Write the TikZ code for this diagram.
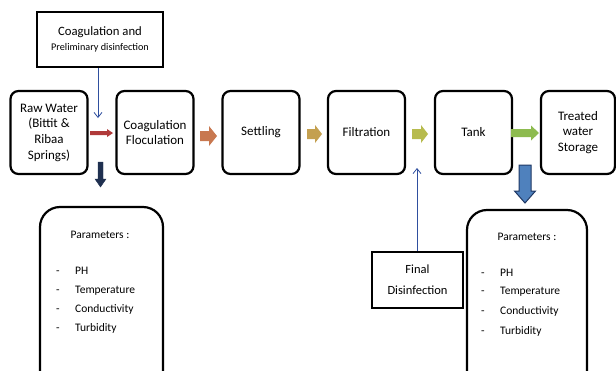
\documentclass[tikz,border=0pt]{standalone}
\usepackage{fontspec}
\setmainfont{Carlito}
\usetikzlibrary{arrows.meta}
\definecolor{redA}{HTML}{B03A3A}
\definecolor{orangeA}{HTML}{C87850}
\definecolor{tanA}{HTML}{C4A050}
\definecolor{ygA}{HTML}{B7BB4E}
\definecolor{greenA}{HTML}{8DBB4F}
\definecolor{navyA}{HTML}{1F3050}
\definecolor{blueA}{HTML}{4F81BD}
\definecolor{blueD}{HTML}{1F3864}
\definecolor{lineB}{HTML}{2F4F9F}
\newcommand\harrow[7]{\fill[#7] (#1,{#3-#4}) -- ({#2-#6},{#3-#4}) -- ({#2-#6},{#3-#5}) -- (#2,#3) -- ({#2-#6},{#3+#5}) -- ({#2-#6},{#3+#4}) -- (#1,{#3+#4}) -- cycle;}
\newcommand\varrow[8]{\filldraw[#7,#8] ({#3-#4},#1) -- ({#3-#4},{#2-#6}) -- ({#3-#5},{#2-#6}) -- (#3,#2) -- ({#3+#5},{#2-#6}) -- ({#3+#4},{#2-#6}) -- ({#3+#4},#1) -- cycle;}
\tikzset{
  stepbox/.style={draw, line width=2.2pt, rounded corners=8pt, minimum width=77pt, minimum height=83pt, align=center, font=\fontsize{13}{15.7}\selectfont, inner sep=1pt},
  sqbox/.style={draw, line width=2.6pt, align=center, inner sep=0pt},
  parbox/.style={draw, line width=2.2pt, rounded corners=20pt},
  ptxt/.style={font=\fontsize{11.5}{13}\selectfont, inner sep=0pt},
  thin/.style={lineB, line width=0.8pt, -{Straight Barb[length=5pt,width=8pt]}}
}
\begin{document}
\begin{tikzpicture}[x=1pt,y=-1pt]
\useasboundingbox (0,0) rectangle (616,370);
\clip (0,0) rectangle (616,370);
\fill[white] (0,0) rectangle (616,370);
% main boxes
\node[stepbox] (raw) at (49,132.5) {Raw Water\\(Bittit \&\\Ribaa\\Springs)};
\node[stepbox] (coag) at (155,132.5) {Coagulation\\Floculation};
\node[stepbox] (settle) at (261,132.5) {Settling};
\node[stepbox] (filt) at (366.5,132.5) {Filtration};
\node[stepbox] (tank) at (473.5,132.5) {Tank};
\node[stepbox, minimum width=74pt] (treat) at (578,132.5) {Treated\\water\\Storage};
% top box
\node[sqbox, minimum width=126pt, minimum height=55pt] (top) at (100,39.5) {\fontsize{12.7}{14}\selectfont Coagulation and\\[3pt]\fontsize{10.2}{12}\selectfont Preliminary disinfection};
% final box
\node[sqbox, minimum width=91pt, minimum height=56pt, font=\fontsize{12.5}{21}\selectfont] (final) at (417.5,280) {Final\\Disinfection};
% thin arrows
\coordinate (t1) at (98,118);
\draw[thin] (top.south -| t1) -- (t1);
\coordinate (t2) at (417,168);
\draw[thin] (final.north -| t2) -- (t2);
% block arrows
\harrow{90}{113}{133}{2}{4}{6}{redA}
\harrow{200}{217}{136}{5}{10}{8}{orangeA}
\harrow{307}{322}{134}{5}{9}{7}{tanA}
\harrow{412}{428}{134}{5}{9}{7}{ygA}
\harrow{511}{539}{133}{4}{7.5}{8}{greenA}
\varrow{162}{187}{100.5}{2.5}{5.5}{8}{fill=navyA}{draw=navyA}
\varrow{165}{203}{525}{6}{10.5}{12}{fill=blueA}{draw=blueD,line width=1pt}
% parameter boxes
\draw[parbox] (40,207) rectangle (163,390);
\draw[parbox] (467,210) rectangle (587,390);
% left texts
\node[ptxt] (lp) at (100,235) {Parameters :};
\foreach \t/\y [count=\i] in {PH/274,Temperature/293,Conductivity/312,Turbidity/331}{
  \node[ptxt, anchor=base] (ld\i) at (58,\y) {-};
  \node[ptxt, anchor=base west] (li\i) at (75,\y) {\t};
}
% right texts
\node[ptxt] (rp) at (527,237) {Parameters :};
\foreach \t/\y [count=\i] in {PH/276,Temperature/294,Conductivity/314,Turbidity/334}{
  \node[ptxt, anchor=base] (rd\i) at (483,\y) {-};
  \node[ptxt, anchor=base west] (ri\i) at (500,\y) {\t};
}
\end{tikzpicture}
\end{document}
